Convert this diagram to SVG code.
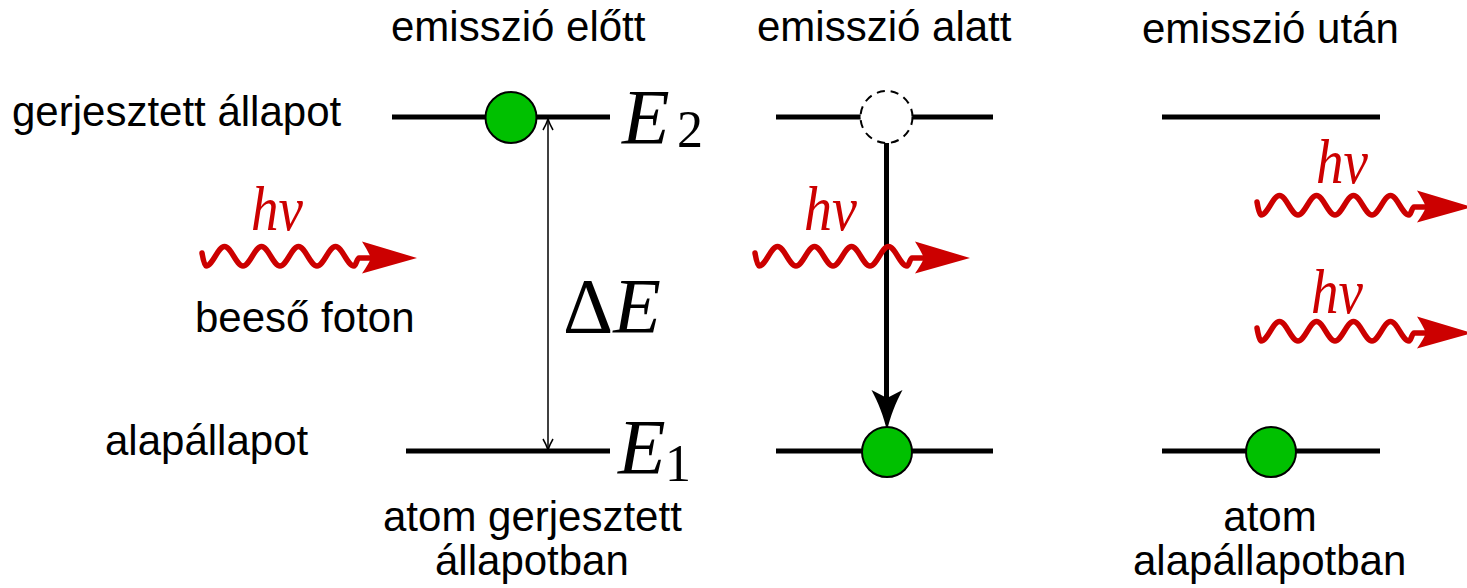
<svg xmlns="http://www.w3.org/2000/svg" xmlns:xlink="http://www.w3.org/1999/xlink" width="1467" height="588" viewBox="0 0 1467 588">
<style>
.lbl{font-family:"Liberation Sans",Arial,sans-serif;font-size:42px;fill:#000}
.math{font-family:"Liberation Serif","Times New Roman",serif;fill:#000}
.it{font-style:italic}
.hv{font-family:"Liberation Serif","Times New Roman",serif;font-style:italic;font-size:64px;fill:#cc0000}
.level{stroke:#000;stroke-width:5;fill:none}
.atom{fill:#00c000;stroke:#000;stroke-width:2}
.ghost{fill:#fff;stroke:#000;stroke-width:2;stroke-dasharray:8 6}
.wave{fill:none;stroke:#cc0000;stroke-width:5.5;stroke-linecap:round;stroke-linejoin:round}
.wavehead{fill:#cc0000;stroke:none}
</style>
<defs>
<g id="photon">
<path class="wave" d="M0,-5 C1,1 2.5,8 4,8 C10.66,8 15.84,-11.5 22.5,-11.5 C29.16,-11.5 34.34,8 41,8 C47.66,8 52.84,-11.5 59.5,-11.5 C66.16,-11.5 71.34,8 78,8 C84.66,8 89.84,-11.5 96.5,-11.5 C103.16,-11.5 108.34,8 115,8 C121.66,8 126.84,-11.5 133.5,-11.5 C140.16,-11.5 145.34,8 152,8 C154,8 155,0 157,0 L190,0"/>
<path class="wavehead" d="M215,0 L160,-16.5 Q166,-7 169,0 Q166,7 160,15.5 Z"/>
</g>
</defs>

<g id="titles">
<text class="lbl" x="391" y="41">emisszió előtt</text>
<text class="lbl" x="757" y="41">emisszió alatt</text>
<text class="lbl" x="1142" y="43">emisszió után</text>
</g>

<g id="side-labels">
<text class="lbl" x="12" y="126">gerjesztett állapot</text>
<text class="lbl" x="195" y="332">beeső foton</text>
<text class="lbl" x="105" y="455">alapállapot</text>
</g>

<g id="levels-before">
<line class="level" x1="392" y1="117" x2="610" y2="117"/>
<line class="level" x1="406" y1="451" x2="610" y2="451"/>
<text class="math it" x="622" y="143" font-size="78">E</text>
<text class="math" x="677" y="147" font-size="52">2</text>
<text class="math it" x="618" y="473" font-size="78">E</text>
<text class="math" x="665" y="481" font-size="52">1</text>
<text class="math" x="563" y="332" font-size="78">Δ<tspan class="it">E</tspan></text>
</g>

<g id="levels-during">
<line class="level" x1="776" y1="117" x2="993" y2="117"/>
<line class="level" x1="776" y1="451" x2="993" y2="451"/>
</g>

<g id="levels-after">
<line class="level" x1="1162" y1="117" x2="1380" y2="117"/>
<line class="level" x1="1162" y1="451" x2="1380" y2="451"/>
</g>

<g id="connectors">
<g id="delta-e-arrow" fill="none" stroke="#000" stroke-width="1.5">
<line x1="548" y1="119" x2="548" y2="449"/>
<path d="M543,130 Q546,125 548,119 Q550,125 553,130"/>
<path d="M543,439 Q546,444 548,450 Q550,444 553,439"/>
</g>
<g id="transition-arrow">
<line x1="886.5" y1="143" x2="886.5" y2="398" stroke="#000" stroke-width="5"/>
<path d="M887,431 C884,417 878,402 871.5,390 L887,398 L902.5,390 C896,402 890,417 887,431 Z" fill="#000"/>
</g>
</g>

<g id="atom-before"><circle class="atom" cx="511" cy="117.5" r="25.5"/></g>
<g id="atom-during-ghost"><circle class="ghost" cx="886.5" cy="117" r="26"/></g>
<g id="atom-during"><circle class="atom" cx="887" cy="452" r="25"/></g>
<g id="atom-after"><circle class="atom" cx="1271" cy="452" r="25"/></g>

<g id="photon-incident">
<use xlink:href="#photon" transform="translate(202,258)"/>
<text class="hv" x="251" y="230" textLength="52" lengthAdjust="spacingAndGlyphs">hν</text>
</g>
<g id="photon-during">
<use xlink:href="#photon" transform="translate(755,258)"/>
<text class="hv" x="804" y="230" textLength="53" lengthAdjust="spacingAndGlyphs">hν</text>
</g>
<g id="photon-out-1">
<use xlink:href="#photon" transform="translate(1257,207)"/>
<text class="hv" x="1316" y="183" textLength="52" lengthAdjust="spacingAndGlyphs">hν</text>
</g>
<g id="photon-out-2">
<use xlink:href="#photon" transform="translate(1257,333)"/>
<text class="hv" x="1311" y="313" textLength="52" lengthAdjust="spacingAndGlyphs">hν</text>
</g>

<g id="bottom-labels">
<text class="lbl" x="383" y="531">atom gerjesztett</text>
<text class="lbl" x="435" y="575">állapotban</text>
<text class="lbl" x="1270" y="531" text-anchor="middle">atom</text>
<text class="lbl" x="1133" y="575">alapállapotban</text>
</g>
</svg>
